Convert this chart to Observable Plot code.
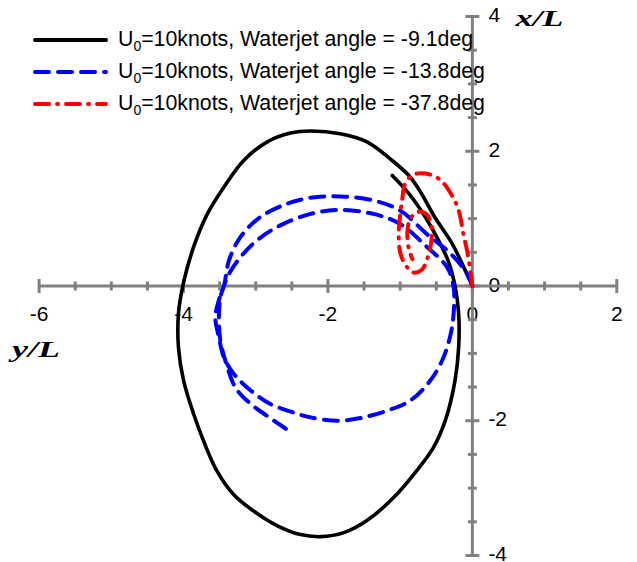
<!DOCTYPE html>
<html><head><meta charset="utf-8">
<script src="https://cdn.jsdelivr.net/npm/d3@7"></script>
<script src="https://cdn.jsdelivr.net/npm/@observablehq/plot@0.6"></script>
<style>
body{margin:0;background:#fff;}
#wrap{position:relative;width:637px;height:562px;}
#wrap svg{position:absolute;left:0;top:0;}
</style>
</head><body><div id="wrap"></div>
<script>
// Series labels and styles
const seriesNames = ["=10knots, Waterjet angle = -9.1deg", "=10knots, Waterjet angle = -13.8deg", "=10knots, Waterjet angle = -37.8deg"];
const seriesColors = ["#000000", "#0000ff", "#ff0000"];
const seriesDash = [null, "14,9", "14,8,1,8"];

// Trajectories: [y/L, x/L]
const black = [[0,0],[-0.12,0.28],[-0.28,0.63],[-0.52,1.02],[-0.72,1.40],[-0.88,1.64],[-1.13,1.88],[-1.46,2.14],[-1.83,2.26],[-2.24,2.30],[-2.52,2.27],[-2.84,2.14],[-3.17,1.86],[-3.44,1.47],[-3.67,1.07],[-3.86,0.58],[-4.0,0.05],[-4.07,-0.41],[-4.07,-0.91],[-4.0,-1.40],[-3.86,-1.90],[-3.70,-2.36],[-3.54,-2.74],[-3.31,-3.09],[-3.03,-3.34],[-2.70,-3.56],[-2.38,-3.69],[-2.10,-3.72],[-1.78,-3.66],[-1.46,-3.48],[-1.09,-3.14],[-0.77,-2.74],[-0.54,-2.40],[-0.37,-1.98],[-0.24,-1.40],[-0.19,-0.91],[-0.19,-0.41],[-0.24,0.0],[-0.33,0.36],[-0.47,0.68],[-0.65,1.02],[-0.87,1.36],[-1.11,1.64]];
const blue = [[0,0],[-0.07,0.18],[-0.30,0.48],[-0.63,0.77],[-1.0,1.12],[-1.37,1.27],[-1.83,1.33],[-2.24,1.31],[-2.57,1.22],[-2.94,1.02],[-3.21,0.73],[-3.37,0.38],[-3.44,0],[-3.51,-0.21],[-3.56,-0.46],[-3.51,-0.76],[-3.44,-1.06],[-3.30,-1.31],[-3.07,-1.55],[-2.80,-1.75],[-2.47,-1.88],[-2.24,-1.95],[-1.87,-2.0],[-1.55,-1.96],[-1.18,-1.85],[-0.86,-1.70],[-0.58,-1.40],[-0.40,-1.06],[-0.30,-0.71],[-0.26,-0.41],[-0.26,-0.01],[-0.35,0.28],[-0.63,0.58],[-1.0,0.92],[-1.37,1.07],[-1.83,1.13],[-2.24,1.07],[-2.66,0.90],[-2.98,0.68],[-3.21,0.43],[-3.37,0.18],[-3.44,0],[-3.49,-0.17],[-3.51,-0.51],[-3.49,-0.81],[-3.42,-1.11],[-3.28,-1.51],[-3.07,-1.75],[-2.84,-1.93],[-2.54,-2.15]];
const red = [[0,0],[-0.06,0.45],[-0.12,0.75],[-0.19,1.12],[-0.28,1.34],[-0.45,1.58],[-0.65,1.67],[-0.82,1.65],[-0.93,1.52],[-0.97,1.30],[-1.0,1.05],[-1.02,0.80],[-1.0,0.50],[-0.93,0.32],[-0.82,0.20],[-0.70,0.24],[-0.62,0.42],[-0.57,0.65],[-0.56,0.87],[-0.63,1.06],[-0.75,1.10],[-0.86,1.0],[-0.90,0.80],[-0.88,0.55],[-0.83,0.40]];
const allSeries = [black, blue, red];

// Axis ticks and titles
const hLabels = [-6, -4, -2, 0, 2];
const vLabels = [4, 2, 0, -2, -4];
const hMinor = d3.range(-6, 2.01, 0.5).filter(v => !hLabels.includes(v));
const vMinor = d3.range(-4, 4.01, 0.5).filter(v => !vLabels.includes(v));
const vTitle = "x/L";
const hTitle = "y/L";

const vbar = {draw(ctx, size){const r = Math.sqrt(size/Math.PI); ctx.moveTo(0,-r); ctx.lineTo(0,r);}};
const hbar = {draw(ctx, size){const r = Math.sqrt(size/Math.PI); ctx.moveTo(-r,0); ctx.lineTo(r,0);}};
const gray = "#808080";
const serif = "'Liberation Serif', 'Times New Roman', serif";

const chart = Plot.plot({
  width: 637, height: 562,
  marginLeft: 38.6, marginRight: 20.7, marginTop: 16, marginBottom: 7,
  x: {domain: [-6, 2], axis: null},
  y: {domain: [-4, 4], axis: null},
  style: {fontFamily: "'Liberation Sans', Arial, sans-serif", fontSize: "21px", background: "#fff"},
  marks: [
    Plot.text(hLabels, {x: d => d, y: () => 0, text: d => String(d), dy: 28, fontSize: 21, fill: "#000"}),
    Plot.text(vLabels, {x: () => 0, y: d => d, text: d => String(d), dx: 16, dy: -1, textAnchor: "start", fontSize: 21, fill: "#000"}),
    Plot.ruleY([0], {x1: -6, x2: 2, stroke: gray, strokeWidth: 3}),
    Plot.ruleX([0], {y1: -4, y2: 4, stroke: gray, strokeWidth: 3}),
    Plot.dot(hLabels, {x: d => d, y: () => 0, r: 7, symbol: vbar, stroke: gray, strokeWidth: 3, fill: "none"}),
    Plot.dot(hMinor, {x: d => d, y: () => 0, r: 4.5, symbol: vbar, stroke: gray, strokeWidth: 3, fill: "none"}),
    Plot.dot(vLabels, {x: () => 0, y: d => d, r: 7, symbol: hbar, stroke: gray, strokeWidth: 3, fill: "none"}),
    Plot.dot(vMinor, {x: () => 0, y: d => d, r: 4.5, symbol: hbar, stroke: gray, strokeWidth: 3, fill: "none"}),
    Plot.text([vTitle], {x: () => 0, y: () => 4, dx: 43, dy: 2, textAnchor: "start", fontFamily: serif, fontWeight: "bold", fontStyle: "italic", fontSize: 24, fill: "#000", className: "axtitle"}),
    Plot.text([hTitle], {x: () => -6, y: () => 0, dx: -27, dy: 63, textAnchor: "start", fontFamily: serif, fontWeight: "bold", fontStyle: "italic", fontSize: 24, fill: "#000", className: "axtitle"}),
    ...allSeries.map((s, i) => Plot.line(s, {x: d => d[0], y: d => d[1], stroke: seriesColors[i], strokeWidth: i === 0 ? 3.6 : 4, strokeDasharray: seriesDash[i], strokeLinecap: "round", curve: "catmull-rom"}))
  ]
});
// widen the axis titles to match the original's spacing
d3.select(chart).selectAll(".axtitle text").attr("textLength", 48).attr("lengthAdjust", "spacingAndGlyphs");
const wrap = document.getElementById("wrap");
wrap.appendChild(chart);

// Legend overlay
const leg = d3.select(wrap).append("svg").attr("width", 637).attr("height", 130)
  .style("font-family", "'Liberation Sans', Arial, sans-serif");
const rowY = [40, 72, 104];
seriesNames.forEach((name, i) => {
  leg.append("line").attr("x1", 35).attr("x2", 106).attr("y1", rowY[i]).attr("y2", rowY[i])
    .attr("stroke", seriesColors[i]).attr("stroke-width", 4).attr("stroke-linecap", "round")
    .attr("stroke-dasharray", seriesDash[i]);
  const t = leg.append("text").attr("x", 118).attr("y", rowY[i] + 6).attr("font-size", 21.3).attr("fill", "#000");
  t.append("tspan").text("U");
  t.append("tspan").attr("font-size", 14).attr("dy", 5).text("0");
  t.append("tspan").attr("dy", -5).text(name);
});
</script>
</body></html>
